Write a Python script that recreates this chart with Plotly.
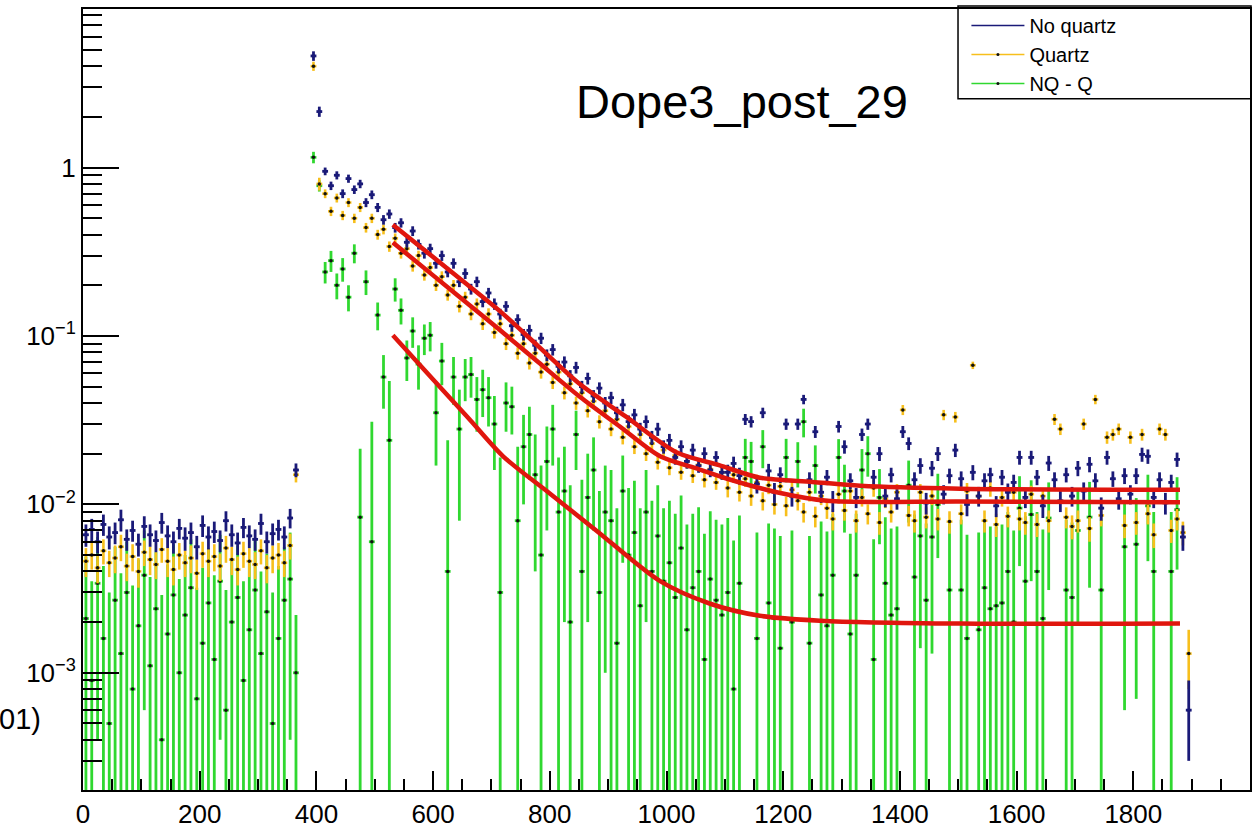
import plotly.graph_objects as go

# ---------------------------------------------------------------- binning
BIN_WIDTH = 10
N_BINS = 190
bin_centers = [BIN_WIDTH * (i + 0.5) for i in range(N_BINS)]

# ---------------------------------------------------------------- "No quartz" histogram (bin contents / errors)
no_quartz = [
    0.0066, 0.0071, 0.0060, 0.0076, 0.0064, 0.0068, 0.0081, 0.0062, 0.0070, 0.0058,
    0.0074, 0.0066, 0.0061, 0.0078, 0.0065, 0.0060, 0.0072, 0.0063, 0.0068, 0.0056,
    0.0075, 0.0064, 0.0069, 0.0061, 0.0080, 0.0066, 0.0059, 0.0073, 0.0065, 0.0062,
    0.0077, 0.0060, 0.0067, 0.0071, 0.0064, 0.0083, 0.0160, None, None, 4.6,
    2.15, 0.95, 0.78, 0.90, 0.70, 0.86, 0.74, 0.80, 0.62, 0.69,
    0.58, 0.49, 0.53, 0.44, 0.47, 0.36, 0.42, 0.35, 0.31, 0.33,
    0.27, 0.30, 0.24, 0.27, 0.21, 0.235, 0.19, 0.21, 0.16, 0.18,
    0.155, 0.135, 0.15, 0.115, 0.125, 0.102, 0.108, 0.088, 0.097, 0.077,
    0.083, 0.066, 0.070, 0.058, 0.065, 0.050, 0.056, 0.044, 0.049, 0.040,
    0.043, 0.035, 0.039, 0.031, 0.034, 0.028, 0.031, 0.025, 0.028, 0.022,
    0.024, 0.019, 0.022, 0.018, 0.021, 0.017, 0.020, 0.016, 0.019, 0.0155,
    0.0155, 0.0175, 0.0148, 0.032, 0.031, 0.0132, 0.035, 0.0158, 0.0118, 0.0150,
    0.030, 0.0112, 0.030, 0.042, 0.0140, 0.027, 0.0118, 0.0145, 0.0105, 0.029,
    0.022, 0.0138, 0.0110, 0.026, 0.030, 0.0145, 0.020, 0.0112, 0.0150, 0.0108,
    0.027, 0.023, 0.0140, 0.017, 0.0102, 0.0164, 0.020, 0.0115, 0.0148, 0.021,
    0.0142, 0.0100, 0.0155, 0.0112, 0.0138, 0.0150, 0.0098, 0.0145, 0.0118, 0.0135,
    0.019, 0.0110, 0.0190, 0.0145, 0.0098, 0.0176, 0.0140, 0.0105, 0.0150, 0.0112,
    0.0164, 0.0120, 0.0173, 0.0138, 0.0095, 0.019, 0.0142, 0.0108, 0.0148, 0.0115,
    0.0148, 0.0198, 0.0193, 0.0110, 0.0140, 0.0102, 0.0135, 0.0185, 0.0064, 0.0006,
]
no_quartz_err = [
    0.0010, 0.0011, 0.0009, 0.0011, 0.0010, 0.0010, 0.0012, 0.0009, 0.0010, 0.0009,
    0.0011, 0.0010, 0.0009, 0.0011, 0.0010, 0.0009, 0.0010, 0.0010, 0.0010, 0.0009,
    0.0011, 0.0010, 0.0010, 0.0009, 0.0011, 0.0010, 0.0009, 0.0010, 0.0010, 0.0009,
    0.0011, 0.0009, 0.0010, 0.0010, 0.0010, 0.0011, 0.0015, None, None, 0.30,
    0.15, 0.05, 0.045, 0.05, 0.042, 0.048, 0.043, 0.046, 0.038, 0.041,
    0.036, 0.032, 0.034, 0.029, 0.030, 0.025, 0.028, 0.024, 0.022, 0.023,
    0.019, 0.021, 0.017, 0.019, 0.015, 0.017, 0.014, 0.015, 0.012, 0.013,
    0.012, 0.010, 0.011, 0.009, 0.0095, 0.008, 0.0085, 0.007, 0.0075, 0.0062,
    0.0065, 0.0053, 0.0056, 0.0047, 0.0052, 0.0041, 0.0045, 0.0037, 0.0040, 0.0034,
    0.0036, 0.0030, 0.0033, 0.0027, 0.0029, 0.0025, 0.0027, 0.0023, 0.0025, 0.0020,
    0.0022, 0.0018, 0.0020, 0.0017, 0.0019, 0.0016, 0.0018, 0.0015, 0.0017, 0.0015,
    0.0017, 0.0017, 0.0017, 0.0024, 0.0024, 0.0016, 0.0025, 0.0016, 0.0016, 0.0016,
    0.0023, 0.0015, 0.0023, 0.0027, 0.0015, 0.0022, 0.0016, 0.0015, 0.0015, 0.0023,
    0.0020, 0.0015, 0.0015, 0.0022, 0.0023, 0.0015, 0.0019, 0.0016, 0.0015, 0.0015,
    0.0022, 0.0020, 0.0015, 0.0018, 0.0015, 0.0017, 0.0019, 0.0015, 0.0015, 0.0019,
    0.0015, 0.0015, 0.0016, 0.0015, 0.0015, 0.0015, 0.0014, 0.0015, 0.0015, 0.0015,
    0.0018, 0.0015, 0.0018, 0.0015, 0.0015, 0.0018, 0.0015, 0.0015, 0.0015, 0.0015,
    0.0017, 0.0015, 0.0018, 0.0015, 0.0015, 0.0018, 0.0015, 0.0015, 0.0016, 0.0015,
    0.0016, 0.0019, 0.0019, 0.0015, 0.0015, 0.0015, 0.0015, 0.0018, 0.0011, 0.0003,
]

# ---------------------------------------------------------------- "Quartz" histogram
quartz = [
    0.0046, 0.0050, 0.0042, 0.0053, 0.0045, 0.0048, 0.0056, 0.0043, 0.0049, 0.0040,
    0.0052, 0.0047, 0.0044, 0.0054, 0.0046, 0.0041, 0.0050, 0.0045, 0.0048, 0.0039,
    0.0051, 0.0046, 0.0049, 0.0043, 0.0055, 0.0047, 0.0041, 0.0051, 0.0046, 0.0044,
    0.0053, 0.0042, 0.0048, 0.0050, 0.0045, 0.0057, 0.0150, None, None, 4.0,
    0.80, 0.70, 0.55, 0.66, 0.52, 0.62, 0.50, 0.58, 0.44, 0.50,
    0.40, 0.43, 0.34, 0.38, 0.31, 0.33, 0.26, 0.30, 0.23, 0.255,
    0.20, 0.225, 0.175, 0.20, 0.15, 0.17, 0.135, 0.155, 0.118, 0.135,
    0.105, 0.118, 0.090, 0.101, 0.079, 0.090, 0.069, 0.079, 0.061, 0.068,
    0.053, 0.061, 0.046, 0.052, 0.040, 0.046, 0.036, 0.041, 0.031, 0.036,
    0.028, 0.032, 0.025, 0.029, 0.022, 0.026, 0.020, 0.023, 0.0178, 0.021,
    0.0165, 0.0195, 0.0155, 0.018, 0.0148, 0.0172, 0.0140, 0.0162, 0.0135, 0.0155,
    0.0125, 0.0150, 0.0118, 0.0142, 0.0112, 0.0135, 0.0105, 0.0130, 0.0100, 0.0128,
    0.0098, 0.0122, 0.0105, 0.0090, 0.0118, 0.0085, 0.0112, 0.0095, 0.0082, 0.0115,
    0.0092, 0.0120, 0.0080, 0.0110, 0.0088, 0.0125, 0.0078, 0.0108, 0.0090, 0.0118,
    0.0364, 0.0086, 0.0080, 0.0118, 0.0084, 0.0112, 0.0082, 0.034, 0.0079, 0.033,
    0.0088, 0.0120, 0.067, 0.0112, 0.0080, 0.0125, 0.0076, 0.0110, 0.0085, 0.0118,
    0.0082, 0.0078, 0.0115, 0.0076, 0.0112, 0.0080, 0.032, 0.028, 0.0084, 0.0074,
    0.0080, 0.030, 0.0072, 0.042, 0.0086, 0.025, 0.026, 0.028, 0.0075, 0.025,
    0.0078, 0.026, 0.0088, 0.0066, 0.028, 0.026, 0.0070, 0.0082, 0.0068, 0.0013,
]
quartz_err = [
    0.0009, 0.0009, 0.0008, 0.0009, 0.0008, 0.0009, 0.0010, 0.0008, 0.0009, 0.0008,
    0.0009, 0.0009, 0.0008, 0.0009, 0.0009, 0.0008, 0.0009, 0.0008, 0.0009, 0.0008,
    0.0009, 0.0009, 0.0009, 0.0008, 0.0010, 0.0009, 0.0008, 0.0009, 0.0009, 0.0008,
    0.0009, 0.0008, 0.0009, 0.0009, 0.0008, 0.0010, 0.0015, None, None, 0.25,
    0.07, 0.042, 0.035, 0.040, 0.033, 0.038, 0.032, 0.036, 0.029, 0.032,
    0.027, 0.029, 0.024, 0.026, 0.022, 0.023, 0.019, 0.021, 0.017, 0.019,
    0.015, 0.017, 0.013, 0.015, 0.012, 0.013, 0.011, 0.012, 0.0095, 0.011,
    0.0085, 0.0095, 0.0075, 0.0082, 0.0066, 0.0074, 0.0058, 0.0066, 0.0052, 0.0057,
    0.0046, 0.0052, 0.0040, 0.0045, 0.0036, 0.0040, 0.0032, 0.0036, 0.0028, 0.0032,
    0.0026, 0.0029, 0.0023, 0.0026, 0.0021, 0.0024, 0.0019, 0.0021, 0.0017, 0.0020,
    0.0016, 0.0018, 0.0015, 0.0017, 0.0014, 0.0016, 0.0014, 0.0015, 0.0013, 0.0015,
    0.0015, 0.0016, 0.0014, 0.0015, 0.0014, 0.0015, 0.0013, 0.0015, 0.0013, 0.0014,
    0.0013, 0.0014, 0.0013, 0.0012, 0.0014, 0.0012, 0.0013, 0.0013, 0.0012, 0.0014,
    0.0012, 0.0014, 0.0012, 0.0013, 0.0012, 0.0014, 0.0012, 0.0013, 0.0012, 0.0014,
    0.0025, 0.0012, 0.0012, 0.0014, 0.0012, 0.0013, 0.0012, 0.0024, 0.0012, 0.0024,
    0.0012, 0.0014, 0.0034, 0.0013, 0.0012, 0.0014, 0.0012, 0.0013, 0.0012, 0.0014,
    0.0012, 0.0012, 0.0014, 0.0012, 0.0013, 0.0012, 0.0024, 0.0022, 0.0012, 0.0012,
    0.0012, 0.0023, 0.0012, 0.0027, 0.0012, 0.0021, 0.0021, 0.0022, 0.0012, 0.0021,
    0.0012, 0.0021, 0.0012, 0.0011, 0.0022, 0.0021, 0.0011, 0.0012, 0.0011, 0.0005,
]

# ---------------------------------------------------------------- "NQ - Q" difference histogram
difference = [
    0.0021, 0.0009, 0.0034, 0.0016, 0.0005, 0.0027, 0.0013, 0.0030, 0.0008, 0.0019,
    0.0038, 0.0011, 0.0024, 0.0004, 0.0017, 0.0029, 0.0010, 0.0022, 0.0032, 0.0007,
    0.0015, 0.0026, 0.0012, 0.0035, 0.0006, 0.0020, 0.0028, 0.0009, 0.0018, 0.0031,
    0.0013, 0.0023, 0.0005, 0.0016, 0.0027, 0.0036, 0.0010, None, None, 1.15,
    0.78, 0.24, 0.28, 0.20, 0.25, 0.17, 0.31, 0.0084, 0.21, 0.006,
    0.133, 0.057, 0.024, 0.19, 0.142, 0.074, 0.107, 0.068, 0.097, 0.101,
    0.035, 0.071, 0.004, 0.057, 0.028, 0.057, 0.059, 0.042, 0.048, 0.043,
    0.030, 0.003, 0.040, 0.038, 0.008, 0.022, 0.026, 0.015, 0.005, 0.018,
    0.028, 0.009, 0.012, 0.002, 0.026, 0.004, 0.011, 0.016, 0.003, 0.009,
    0.008, 0.0015, 0.012, 0.005, 0.0068, 0.0025, 0.009, 0.004, 0.0065, 0.0035,
    0.0045, 0.0028, 0.0055, 0.0018, 0.0032, 0.0040, 0.0012, 0.0036, 0.0027, 0.0022,
    0.0030, 0.0008, 0.0034, 0.019, 0.018, 0.0016, 0.022, 0.0026, 0.0021, 0.0014,
    0.019, 0.0020, 0.018, 0.031, 0.0015, 0.017, 0.0029, 0.0019, 0.0038, 0.019,
    0.012, 0.0017, 0.0038, 0.016, 0.020, 0.0012, 0.011, 0.0034, 0.0022, 0.0024,
    None, 0.013, 0.0037, 0.0065, 0.0027, 0.0064, 0.010, None, 0.0031, None,
    0.0031, 0.0016, None, 0.0018, 0.0032, 0.0024, 0.0025, 0.0026, 0.0040, 0.0020,
    0.0095, 0.0035, 0.0087, 0.0040, 0.0021, 0.0083, None, None, 0.0031, 0.0028,
    0.0070, None, 0.0084, None, 0.0031, None, None, None, 0.0056, None,
    0.0058, None, 0.0098, 0.0040, None, None, 0.0040, 0.0093, None, None,
]
difference_err = [
    0.0028, 0.0026, 0.0030, 0.0027, 0.0025, 0.0029, 0.0026, 0.0030, 0.0025, 0.0028,
    0.0032, 0.0026, 0.0028, 0.0025, 0.0027, 0.0029, 0.0026, 0.0028, 0.0030, 0.0025,
    0.0027, 0.0029, 0.0026, 0.0031, 0.0025, 0.0028, 0.0029, 0.0026, 0.0027, 0.0030,
    0.0027, 0.0028, 0.0025, 0.0027, 0.0029, 0.0032, 0.0012, None, None, 0.09,
    0.06, 0.035, 0.04, 0.035, 0.04, 0.03, 0.04, 0.013, 0.035, 0.025,
    0.025, 0.02, 0.03, 0.03, 0.025, 0.02, 0.022, 0.02, 0.02, 0.02,
    0.018, 0.02, 0.02, 0.018, 0.02, 0.016, 0.016, 0.015, 0.015, 0.014,
    0.014, 0.016, 0.013, 0.012, 0.014, 0.012, 0.012, 0.011, 0.012, 0.011,
    0.011, 0.010, 0.010, 0.011, 0.010, 0.010, 0.009, 0.009, 0.009, 0.008,
    0.008, 0.008, 0.0075, 0.0075, 0.007, 0.007, 0.007, 0.0065, 0.0065, 0.006,
    0.006, 0.006, 0.0058, 0.0058, 0.0056, 0.0056, 0.0055, 0.0055, 0.0054, 0.0054,
    0.0053, 0.0053, 0.0052, 0.0055, 0.0055, 0.0052, 0.0056, 0.0051, 0.0051, 0.0051,
    0.0055, 0.0050, 0.0054, 0.0060, 0.0050, 0.0054, 0.0050, 0.0050, 0.0050, 0.0054,
    0.0052, 0.0050, 0.0050, 0.0053, 0.0054, 0.0050, 0.0052, 0.0050, 0.0050, 0.0050,
    None, 0.0052, 0.0050, 0.0051, 0.0050, 0.0051, 0.0052, None, 0.0050, None,
    0.0050, 0.0050, None, 0.0050, 0.0050, 0.0050, 0.0049, 0.0050, 0.0050, 0.0050,
    0.0052, 0.0050, 0.0052, 0.0050, 0.0050, 0.0052, None, None, 0.0050, 0.0050,
    0.0051, None, 0.0052, None, 0.0050, None, None, None, 0.0050, None,
    0.0051, None, 0.0052, 0.0050, None, None, 0.0050, 0.0052, None, None,
]

# ---------------------------------------------------------------- fitted curves (sampled)
fit_nq_x = [531, 600, 660, 715, 780, 852, 930, 1018, 1090, 1160, 1250, 1332, 1503, 1880]
fit_nq_y = [0.458, 0.294, 0.200, 0.140, 0.0871, 0.0516, 0.0333, 0.0203, 0.0171, 0.0144,
            0.0136, 0.0129, 0.0124, 0.0122]
fit_q_x = [531, 600, 660, 715, 780, 852, 920, 989, 1050, 1104, 1189, 1275, 1503, 1880]
fit_q_y = [0.359, 0.229, 0.155, 0.108, 0.0700, 0.0434, 0.0290, 0.0193, 0.0164, 0.0142,
           0.0118, 0.0105, 0.0104, 0.0103]
fit_diff_x = [531, 600, 660, 720, 800, 880, 989, 1075, 1160, 1263, 1503, 1880]
fit_diff_y = [0.101, 0.0552, 0.0327, 0.0193, 0.0116, 0.00698, 0.0035, 0.00257, 0.00218,
              0.00204, 0.00196, 0.00196]

# ---------------------------------------------------------------- axes
x_tick_vals = [0, 200, 400, 600, 800, 1000, 1200, 1400, 1600, 1800]
x_tick_text = [str(v) for v in x_tick_vals]
y_tick_vals = [1e-3, 1e-2, 1e-1, 1]
y_tick_text = ["10<sup>\u22123</sup>", "10<sup>\u22122</sup>", "10<sup>\u22121</sup>", "1"]
y_minor_vals = [k * 10.0 ** d for d in range(-4, 1) for k in range(2, 10)]

NAVY = "#1a1a78"
GOLD = "#f7bf1c"
GREEN = "#30d830"
RED = "#e0160e"
FONT = "Liberation Sans, Arial, Helvetica, sans-serif"

fig = go.Figure()


def histogram_trace(values, errors, color, marker_color, thickness):
    return go.Scatter(
        x=bin_centers, y=values, mode="markers",
        marker=dict(size=3.5, color=marker_color),
        error_y=dict(type="data", array=errors, visible=True, color=color,
                     thickness=thickness, width=0),
        error_x=dict(type="constant", value=BIN_WIDTH / 2, visible=True, color=color,
                     thickness=thickness, width=0),
        showlegend=False, hoverinfo="skip",
    )


fig.add_trace(histogram_trace(difference, difference_err, GREEN, "#111111", 2.8))
fig.add_trace(histogram_trace(quartz, quartz_err, GOLD, "#111111", 2.6))
fig.add_trace(histogram_trace(no_quartz, no_quartz_err, NAVY, NAVY, 2.8))

for fx, fy in ((fit_nq_x, fit_nq_y), (fit_q_x, fit_q_y), (fit_diff_x, fit_diff_y)):
    fig.add_trace(go.Scatter(
        x=fx, y=fy, mode="lines",
        line=dict(color=RED, width=4.5, shape="spline", smoothing=0.8),
        showlegend=False, hoverinfo="skip",
    ))

# legend entries
fig.add_trace(go.Scatter(x=[None], y=[None], mode="lines", name="No quartz",
                         line=dict(color=NAVY, width=1.5)))
fig.add_trace(go.Scatter(x=[None], y=[None], mode="lines+markers", name="Quartz",
                         line=dict(color=GOLD, width=1.5),
                         marker=dict(size=3, color="#111111")))
fig.add_trace(go.Scatter(x=[None], y=[None], mode="lines+markers", name="NQ - Q",
                         line=dict(color=GREEN, width=1.5),
                         marker=dict(size=3, color="#111111")))

axis_common = dict(
    showline=True, linecolor="black", linewidth=2, mirror=True,
    showgrid=False, zeroline=False, ticks="inside", tickcolor="black",
    tickwidth=1.5, tickfont=dict(family=FONT, size=26, color="black"),
)

fig.update_layout(
    width=1258, height=835,
    margin=dict(l=83, r=8, t=6, b=36),
    paper_bgcolor="white", plot_bgcolor="white",
    font=dict(family=FONT, color="black"),
    xaxis=dict(
        type="linear", range=[0, 2000],
        tickmode="array", tickvals=x_tick_vals, ticktext=x_tick_text, ticklen=19,
        minor=dict(ticks="inside", ticklen=11, tickwidth=1.5, tickcolor="black",
                   tick0=0, dtick=50, showgrid=False),
        **axis_common,
    ),
    yaxis=dict(
        type="log", range=[-3.696, 0.9415],
        tickmode="array", tickvals=y_tick_vals, ticktext=y_tick_text, ticklen=36,
        minor=dict(ticks="inside", ticklen=19, tickwidth=1.5, tickcolor="black",
                   tickmode="array", tickvals=y_minor_vals, showgrid=False),
        **axis_common,
    ),
    legend=dict(
        x=0.757, y=1.0038, xanchor="left", yanchor="top",
        bgcolor="rgba(0,0,0,0)", borderwidth=0,
        font=dict(family=FONT, size=20, color="black"),
        itemwidth=53, tracegroupgap=0,
    ),
    shapes=[
        dict(type="rect", xref="paper", yref="paper",
             x0=0.7498, x1=1.0009, y0=0.885, y1=1.0038,
             line=dict(color="black", width=1.5), fillcolor="white", layer="below"),
    ],
    annotations=[
        dict(text="Dope3_post_29", xref="paper", yref="paper",
             x=(574 - 83) / 1167, y=(799 - 100) / 793, xanchor="left", yanchor="middle",
             showarrow=False, font=dict(family=FONT, size=47, color="black")),
        dict(text="01)", xref="paper", yref="paper",
             x=(43 - 83) / 1167, y=(799 - 727) / 793, xanchor="right", yanchor="middle",
             showarrow=False, font=dict(family=FONT, size=29, color="black")),
    ],
)

fig.write_html("out.html")
